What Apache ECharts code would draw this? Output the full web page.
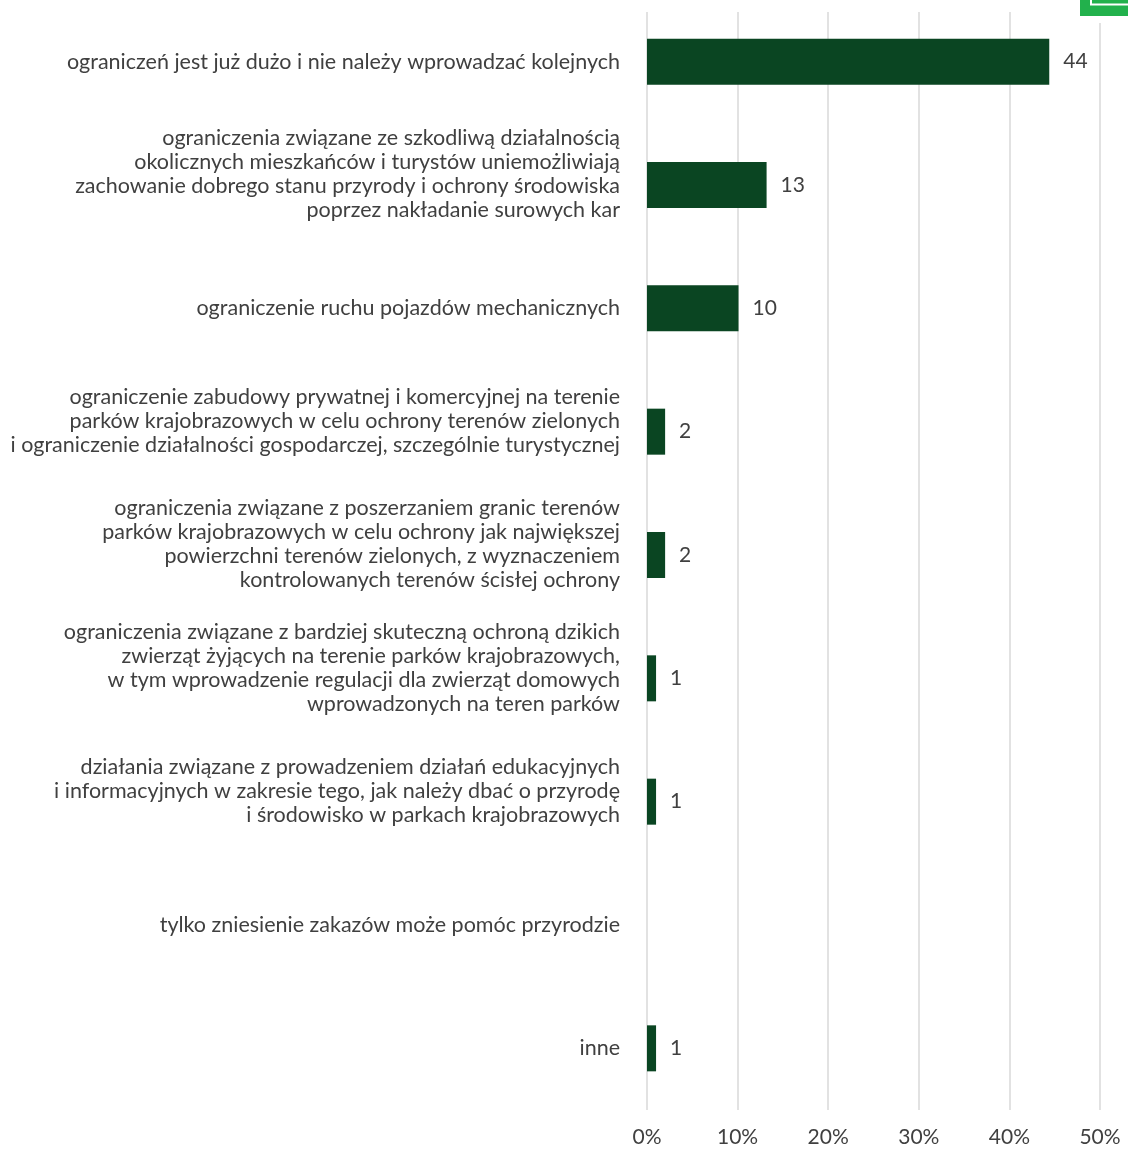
<!DOCTYPE html>
<html>
<head>
<meta charset="utf-8">
<script src="https://cdn.jsdelivr.net/npm/echarts@6/dist/echarts.min.js"></script>
<style>
html,body{margin:0;padding:0;background:#fff;}
#chart{width:1128px;height:1149px;}
</style>
</head>
<body>
<div id="chart"></div>
<script>
const categories = [
  "ograniczeń jest już dużo i nie należy wprowadzać kolejnych",
  "ograniczenia związane ze szkodliwą działalnością\nokolicznych mieszkańców i turystów uniemożliwiają\nzachowanie dobrego stanu przyrody i ochrony środowiska\npoprzez nakładanie surowych kar",
  "ograniczenie ruchu pojazdów mechanicznych",
  "ograniczenie zabudowy prywatnej i komercyjnej na terenie\nparków krajobrazowych w celu ochrony terenów zielonych\ni ograniczenie działalności gospodarczej, szczególnie turystycznej",
  "ograniczenia związane z poszerzaniem granic terenów\nparków krajobrazowych w celu ochrony jak największej\npowierzchni terenów zielonych, z wyznaczeniem\nkontrolowanych terenów ścisłej ochrony",
  "ograniczenia związane z bardziej skuteczną ochroną dzikich\nzwierząt żyjących na terenie parków krajobrazowych,\nw tym wprowadzenie regulacji dla zwierząt domowych\nwprowadzonych na teren parków",
  "działania związane z prowadzeniem działań edukacyjnych\ni informacyjnych w zakresie tego, jak należy dbać o przyrodę\ni środowisko w parkach krajobrazowych",
  "tylko zniesienie zakazów może pomóc przyrodzie",
  "inne"
];
const values = [44.4, 13.2, 10.1, 2.0, 2.0, 1.0, 1.0, null, 1.0];
const xTicks = [0, 10, 20, 30, 40, 50];

const FONT = 'Lato';
const TXT = '#404040';

const chart = echarts.init(document.getElementById('chart'), null, {renderer: 'canvas'});
chart.setOption({
  backgroundColor: '#ffffff',
  animation: false,
  grid: {left: 647, right: 28, top: -5, bottom: 39, containLabel: false},
  xAxis: {
    type: 'value',
    min: xTicks[0],
    max: xTicks[xTicks.length - 1],
    interval: 10,
    axisLine: {show: false},
    axisTick: {show: false},
    splitLine: {show: true, lineStyle: {color: '#d9d9d9', width: 1.5}},
    axisLabel: {
      formatter: v => v + '%',
      color: TXT, fontFamily: FONT, fontSize: 21, margin: 17
    }
  },
  yAxis: {
    type: 'category',
    data: categories,
    inverse: true,
    axisLine: {show: false},
    axisTick: {show: false},
    axisLabel: {
      color: TXT, fontFamily: FONT, fontSize: 21.5, lineHeight: 24,
      margin: 27, align: 'right',
      // multi-line labels sit slightly above their bar in the original
      formatter: v => v.indexOf('\n') >= 0 ? v + '\n{s| }' : v,
      rich: {s: {fontSize: 1, lineHeight: 21}}
    }
  },
  series: [{
    type: 'bar',
    data: values,
    barWidth: 46,
    itemStyle: {color: '#0a4522'},
    label: {
      show: true,
      position: 'right',
      distance: 14,
      color: TXT, fontFamily: FONT, fontSize: 21,
      formatter: p => (p.value == null ? '' : Math.round(p.value))
    }
  }],
  graphic: [
    {type: 'rect', z: 100, shape: {x: 600, y: 0, width: 528, height: 12}, style: {fill: '#fff'}},
    {type: 'rect', z: 100, shape: {x: 1085, y: 0, width: 43, height: 23}, style: {fill: '#fff'}},
    {type: 'rect', z: 101, shape: {x: 1080, y: -2, width: 50, height: 18}, style: {fill: '#22b14c'}},
    {type: 'polyline', z: 102, shape: {points: [[1091, 0], [1091, 4.5], [1130, 4.5]]}, style: {stroke: '#fff', lineWidth: 2, fill: null}}
  ]
});
</script>
</body>
</html>
